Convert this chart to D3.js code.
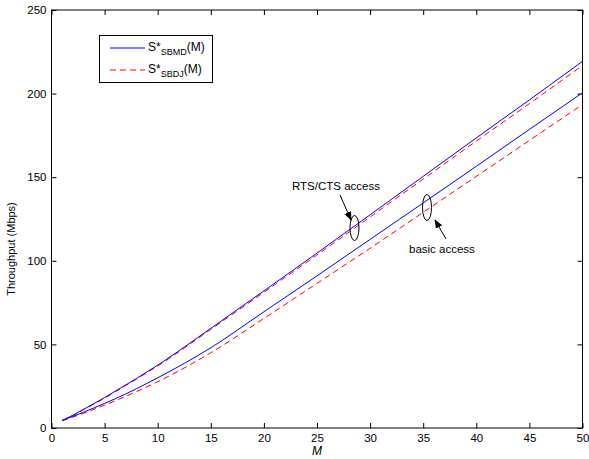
<!DOCTYPE html>
<html>
<head>
<meta charset="utf-8">
<script src="https://cdn.jsdelivr.net/npm/d3@7"></script>
<style>
  body { margin: 0; background: #fff; }
  text { font-family: "Liberation Sans", Arial, sans-serif; fill: #000; }
</style>
</head>
<body>
<div id="chart"></div>
<script>
// M values (number of frames)
const mValues = [1, 2, 3, 4, 5, 6, 7, 8, 9, 10, 15, 20, 25, 30, 35, 40, 45, 50];
// RTS/CTS access
const rtsSbmd = [4.5, 7.6, 11.1, 14.6, 18.2, 22.0, 25.8, 29.6, 33.6, 37.6, 59.6, 82.0, 104.6, 127.5, 150.5, 173.5, 196.2, 219.3];
const rtsSbdj = [4.4, 7.4, 10.9, 14.3, 17.8, 21.6, 25.4, 29.2, 33.2, 37.1, 59.0, 81.2, 103.5, 126.2, 148.9, 171.6, 194.0, 216.8];
// basic access
const basicSbmd = [4.5, 6.9, 9.4, 12.0, 14.7, 17.5, 20.4, 23.5, 26.7, 30.0, 48.0, 69.5, 91.0, 112.8, 134.6, 156.5, 178.6, 200.5];
const basicSbdj = [4.3, 6.5, 8.8, 11.2, 13.7, 16.3, 19.0, 21.8, 24.7, 27.7, 45.0, 65.5, 86.5, 107.5, 129.0, 150.5, 172.0, 193.5];

const xTicks = [0, 5, 10, 15, 20, 25, 30, 35, 40, 45, 50];
const yTicks = [0, 50, 100, 150, 200, 250];

const width = 589, height = 459;
const plotLeft = 51.5, plotRight = 582.5, plotTop = 10, plotBottom = 428;

const svg = d3.select("#chart").append("svg")
    .attr("width", width)
    .attr("height", height);

const defs = svg.append("defs");
defs.append("marker")
    .attr("id", "arrow")
    .attr("viewBox", "0 0 10 10")
    .attr("refX", 9).attr("refY", 5)
    .attr("markerWidth", 9).attr("markerHeight", 9)
    .attr("markerUnits", "userSpaceOnUse")
    .attr("orient", "auto")
    .append("path")
    .attr("d", "M0,1 L10,5 L0,9 Z")
    .attr("fill", "#000");

const x = d3.scaleLinear().domain([0, 50]).range([plotLeft, plotRight]);
const y = d3.scaleLinear().domain([0, 250]).range([plotBottom, plotTop]);

// axes (MATLAB style, ticks inside, box on)
const tickLen = 5;
const axisFont = "11.5px";

svg.append("g")
    .attr("transform", "translate(0," + plotBottom + ")")
    .call(d3.axisBottom(x).tickValues(xTicks).tickSize(-tickLen).tickPadding(6))
    .call(g => g.select(".domain").remove())
    .call(g => g.selectAll("text").style("font-size", axisFont).attr("font-family", null));

svg.append("g")
    .attr("transform", "translate(0," + plotTop + ")")
    .call(d3.axisTop(x).tickValues(xTicks).tickSize(-tickLen).tickFormat(""))
    .call(g => g.select(".domain").remove());

svg.append("g")
    .attr("transform", "translate(" + plotLeft + ",0)")
    .call(d3.axisLeft(y).tickValues(yTicks).tickSize(-tickLen).tickPadding(5))
    .call(g => g.select(".domain").remove())
    .call(g => g.selectAll("text").style("font-size", axisFont).attr("font-family", null));

svg.append("g")
    .attr("transform", "translate(" + plotRight + ",0)")
    .call(d3.axisRight(y).tickValues(yTicks).tickSize(-tickLen).tickFormat(""))
    .call(g => g.select(".domain").remove());

svg.selectAll(".tick line").attr("stroke", "#000");

svg.append("rect")
    .attr("x", plotLeft).attr("y", plotTop)
    .attr("width", plotRight - plotLeft).attr("height", plotBottom - plotTop)
    .attr("fill", "none")
    .attr("stroke", "#000")
    .attr("stroke-width", 1);

// axis labels
svg.append("text")
    .attr("x", x(25)).attr("y", 455)
    .attr("text-anchor", "middle")
    .style("font-size", "12px")
    .style("font-style", "italic")
    .text("M");

svg.append("text")
    .attr("transform", "translate(15,249) rotate(-90)")
    .attr("text-anchor", "middle")
    .style("font-size", "11px")
    .text("Throughput (Mbps)");

// curves
const line = d3.line()
    .x(function(d) { return x(d[0]); })
    .y(function(d) { return y(d[1]); })
    .curve(d3.curveMonotoneX);

const series = [
    { vals: rtsSbdj, color: "#ff0000", dash: "6,4" },
    { vals: basicSbdj, color: "#ff0000", dash: "6,4" },
    { vals: rtsSbmd, color: "#0000ff", dash: null },
    { vals: basicSbmd, color: "#0000ff", dash: null }
];

series.forEach(function(s) {
    svg.append("path")
        .datum(mValues.map(function(m, i) { return [m, s.vals[i]]; }))
        .attr("d", line)
        .attr("fill", "none")
        .attr("stroke", s.color)
        .attr("stroke-width", 1)
        .attr("stroke-dasharray", s.dash);
});

// annotations
svg.append("ellipse")
    .attr("cx", 354.5).attr("cy", 228)
    .attr("rx", 4.5).attr("ry", 12.5)
    .attr("fill", "none").attr("stroke", "#000");
svg.append("ellipse")
    .attr("cx", 427).attr("cy", 207.5)
    .attr("rx", 4.5).attr("ry", 13)
    .attr("fill", "none").attr("stroke", "#000");

svg.append("line")
    .attr("x1", 340).attr("y1", 195)
    .attr("x2", 351).attr("y2", 220)
    .attr("stroke", "#000")
    .attr("marker-end", "url(#arrow)");
svg.append("line")
    .attr("x1", 446).attr("y1", 239)
    .attr("x2", 435).attr("y2", 220)
    .attr("stroke", "#000")
    .attr("marker-end", "url(#arrow)");

svg.append("text")
    .attr("x", 292).attr("y", 190)
    .style("font-size", "11.5px")
    .text("RTS/CTS access");
svg.append("text")
    .attr("x", 409).attr("y", 253)
    .style("font-size", "11.5px")
    .text("basic access");

// legend
const legend = svg.append("g");
legend.append("rect")
    .attr("x", 99.5).attr("y", 35.5)
    .attr("width", 113).attr("height", 47)
    .attr("fill", "#fff")
    .attr("stroke", "#000");

const legendItems = [
    { sub: "SBMD", color: "#0000ff", dash: null, y: 48 },
    { sub: "SBDJ", color: "#ff0000", dash: "6,4", y: 70 }
];

legendItems.forEach(function(it) {
    legend.append("line")
        .attr("x1", 110).attr("x2", 145)
        .attr("y1", it.y).attr("y2", it.y)
        .attr("stroke", it.color)
        .attr("stroke-dasharray", it.dash);
    const t = legend.append("text")
        .attr("x", 148).attr("y", it.y + 3)
        .style("font-size", "12px");
    t.append("tspan").text("S*");
    t.append("tspan").attr("dy", 4).style("font-size", "9px").text(it.sub);
    t.append("tspan").attr("dy", -4).text("(M)");
});
</script>
</body>
</html>
